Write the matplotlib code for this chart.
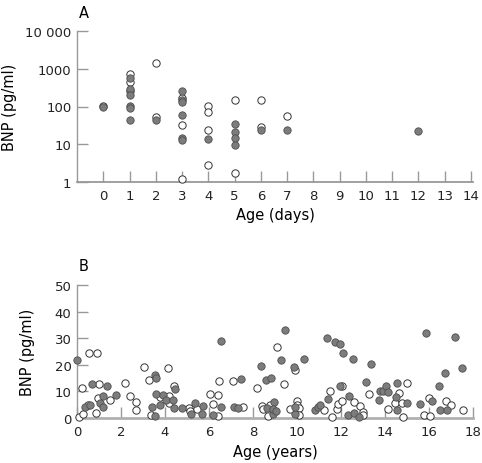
import matplotlib
matplotlib.use("Agg")
import matplotlib.pyplot as plt
import matplotlib.ticker as mticker

# panel A: neonates, age in days, BNP on log scale
a_fill_day = [0, 1, 1, 1, 1, 1, 1, 2, 3, 3, 3, 3, 3, 3, 4, 5, 5, 5, 5, 6, 7, 12]
a_fill_bnp = [95, 558, 291, 201, 101, 91, 45, 43, 252, 148, 129, 61, 14.7, 13.1,
              13.8, 35, 21, 15, 9.8, 23.8, 23.8, 22.5]
a_open_day = [0, 1, 1, 1, 2, 2, 3, 3, 3, 4, 4, 4, 4, 5, 5, 6, 6, 7]
a_open_bnp = [105, 713, 454, 257, 1390, 52, 170, 33, 1.18, 105, 70, 24.3, 2.8,
              151, 1.7, 151, 28, 57]

# panel B: children, age in years
b_fill_age = [0.0, 0.38, 0.6, 0.7, 1.06, 1.2, 1.18, 1.35, 1.77, 3.56, 3.59, 3.59,
              3.42, 3.53, 3.79, 3.89, 4.03, 4.36, 4.44, 4.42, 4.76, 5.2, 5.38,
              5.67, 5.74, 6.18, 6.53, 6.55, 7.12, 7.32, 7.47, 8.35, 8.59, 8.64,
              8.82, 8.89, 8.94, 8.91, 9.06, 9.26, 9.45, 9.88, 9.89, 9.9, 10.3,
              10.8, 10.97, 11.03, 11.36, 11.4, 11.73, 11.97, 11.94, 12.09, 12.35,
              12.32, 12.55, 12.58, 12.83, 13.12, 13.35, 13.73, 13.77, 13.9, 14.06,
              14.15, 14.48, 14.53, 14.55, 14.98, 15.58, 15.86, 16.14, 16.44, 16.48,
              16.74, 16.82, 17.17, 17.48]
b_fill_bnp = [21.7, 4.2, 4.8, 12.8, 5.5, 8.1, 4.2, 12.2, 8.7, 16.2, 15.0, 8.9,
              4.2, 0.6, 4.9, 8.6, 6.9, 6.7, 10.8, 3.9, 3.9, 1.5, 5.8, 1.5, 4.5,
              1.3, 4.2, 29.1, 4.2, 3.7, 14.5, 19.4, 14.1, 3.9, 15.2, 1.6, 5.9,
              3.4, 2.5, 21.8, 32.9, 19.0, 1.4, 4.0, 22.2, 2.9, 4.2, 4.9, 30.2,
              7.2, 28.6, 28.0, 12.0, 24.4, 8.1, 1.0, 22.0, 2.0, 0.4, 13.5, 20.4,
              6.8, 10.3, 10.3, 12.0, 9.6, 7.9, 13.1, 3.1, 5.7, 5.2, 32.1, 6.4,
              12.1, 3.0, 17.1, 3.0, 30.5, 18.8]
b_open_age = [0.1, 0.23, 0.26, 0.48, 0.55, 0.9, 1.0, 0.88, 0.97, 1.48, 2.2, 2.42,
              2.7, 2.7, 3.06, 3.26, 3.36, 3.76, 4.14, 4.17, 4.2, 4.39, 5.1, 5.14,
              5.45, 6.05, 6.2, 6.4, 6.4, 6.47, 7.08, 7.53, 8.2, 8.4, 8.45, 8.67,
              8.77, 9.1, 9.41, 9.7, 9.92, 9.98, 10.0, 10.1, 10.1, 11.24, 11.5,
              11.6, 11.8, 11.86, 12.05, 12.03, 12.58, 12.88, 13.0, 13.0, 13.27,
              14.12, 14.47, 14.65, 14.77, 14.83, 15.0, 15.76, 16.03, 16.0, 16.79,
              17.0, 17.53]
b_open_bnp = [0.25, 11.1, 1.5, 4.9, 24.6, 24.6, 12.8, 1.9, 7.6, 6.7, 13.1, 8.3,
              6.2, 3.0, 19.0, 14.4, 1.3, 7.9, 18.8, 8.1, 5.8, 12.1, 3.9, 2.5,
              3.4, 9.2, 5.3, 8.8, 0.6, 14.0, 14.0, 4.2, 11.1, 4.4, 3.4, 0.9, 4.9,
              26.7, 12.6, 3.4, 18.1, 6.5, 5.0, 3.7, 1.3, 2.9, 10.1, 0.25, 3.3,
              5.4, 12.0, 6.3, 5.9, 4.5, 2.3, 1.3, 9.2, 3.5, 5.5, 9.3, 5.7, 0.25,
              13.1, 1.0, 0.6, 7.6, 6.3, 4.9, 3.1]

plt.rcParams['font.family'] = ['DejaVu Sans']
plt.rcParams['font.size'] = 9.5

axis_col = '#999999'
fill_col = '#7c7c7c'
fill_edge = '#4d4d4d'
open_edge = '#333333'
msize = 28

fig = plt.figure(figsize=(4.82, 4.64), dpi=100)

# ---- panel A
ax1 = fig.add_axes([77 / 482, 1 - 183 / 464, 396 / 482, 151 / 464])
ax1.scatter(a_open_day, a_open_bnp, s=msize, c='white', edgecolors=open_edge,
            linewidths=0.7, zorder=3, clip_on=False)
ax1.scatter(a_fill_day, a_fill_bnp, s=msize, c=fill_col, edgecolors=fill_edge,
            linewidths=0.6, zorder=4, clip_on=False)
ax1.set_yscale('log')
ax1.set_ylim(1, 10000)
ax1.set_xlim(-1, 14.08)
ax1.set_xticks(range(0, 15))
ax1.set_yticks([1, 10, 100, 1000, 10000])
ax1.set_yticklabels(['1', '10', '100', '1000', '10 000'])
ax1.yaxis.set_minor_locator(mticker.NullLocator())
ax1.set_xlabel('Age (days)', fontsize=10.5, labelpad=4)
ax1.set_ylabel('BNP (pg/ml)', fontsize=10.5, labelpad=6)
ax1.text(0.005, 1.07, 'A', transform=ax1.transAxes, fontsize=10.5,
         ha='left', va='bottom')

# ---- panel B
ax2 = fig.add_axes([77 / 482, 1 - 419 / 464, 396 / 482, 133 / 464])
ax2.scatter(b_open_age, b_open_bnp, s=msize, c='white', edgecolors=open_edge,
            linewidths=0.7, zorder=3, clip_on=False)
ax2.scatter(b_fill_age, b_fill_bnp, s=msize, c=fill_col, edgecolors=fill_edge,
            linewidths=0.6, zorder=4, clip_on=False)
ax2.set_xlim(0, 18)
ax2.set_ylim(0, 50)
ax2.set_xticks(range(0, 19, 2))
ax2.set_yticks(range(0, 51, 10))
ax2.set_xlabel('Age (years)', fontsize=10.5, labelpad=4)
ax2.set_ylabel('BNP (pg/ml)', fontsize=10.5, labelpad=14)
ax2.text(0.005, 1.09, 'B', transform=ax2.transAxes, fontsize=10.5,
         ha='left', va='bottom')

for ax in (ax1, ax2):
    for side in ('top', 'right'):
        ax.spines[side].set_visible(False)
    ax.spines['left'].set_color(axis_col)
    ax.spines['bottom'].set_color(axis_col)
    ax.spines['left'].set_linewidth(1.0)
    ax.spines['bottom'].set_linewidth(1.3)
    ax.tick_params(axis='both', direction='in', length=7.7, width=1.0,
                   color=axis_col, labelsize=9.5, labelcolor='#222222')
    ax.tick_params(axis='x', pad=5)
    ax.tick_params(axis='y', pad=4)

ax2.spines['bottom'].set_linewidth(2.0)
ax2.spines['bottom'].set_color('#b0b0b0')

fig.savefig('out.png', dpi=100)
